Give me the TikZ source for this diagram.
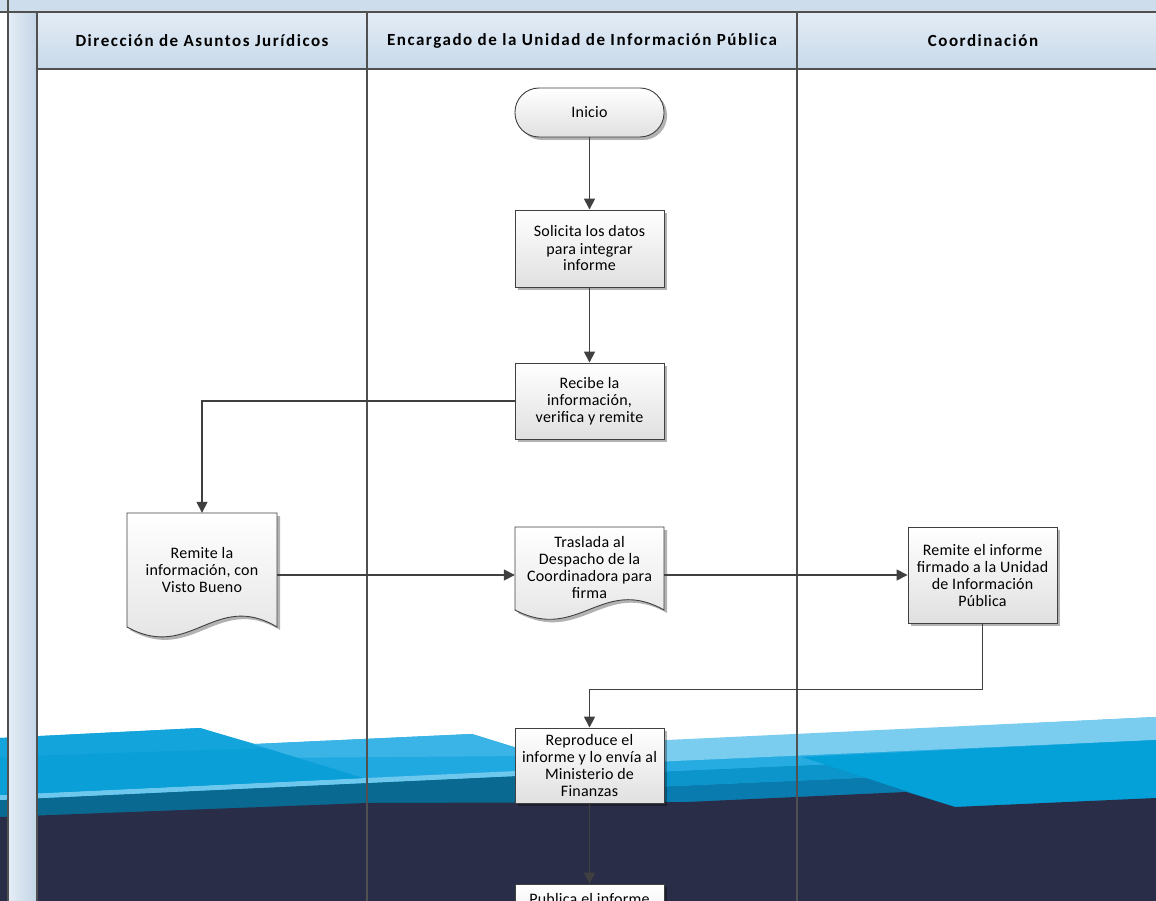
\documentclass[tikz,border=0pt]{standalone}
\usepackage{fontspec}
\setmainfont{Carlito}
\newfontfamily\boxfont[LetterSpace=1.5]{Carlito}
\newfontfamily\headfont[LetterSpace=9]{Carlito}
\usetikzlibrary{arrows.meta,shadows}
\definecolor{navy}{HTML}{2A2D47}
\definecolor{teal2}{HTML}{0A6990}
\definecolor{lightline}{HTML}{6EC8EE}
\definecolor{frontblue}{HTML}{12A4DB}
\definecolor{frontblue2}{HTML}{0B9FD7}
\definecolor{baseblue}{HTML}{1FA9E0}
\definecolor{baselight}{HTML}{3AB4E6}
\definecolor{rlight}{HTML}{7BCDF0}
\definecolor{rs1}{HTML}{27ACE2}
\definecolor{rs2}{HTML}{0B95CA}
\definecolor{rs3}{HTML}{0A7BAE}
\definecolor{rmed}{HTML}{04A0D8}
\definecolor{linec}{HTML}{404040}
\definecolor{lanec}{HTML}{505050}
\definecolor{boxbot}{HTML}{E0E0E0}
\definecolor{headtop}{HTML}{E4ECF5}
\definecolor{headbot}{HTML}{C7D9EA}
\definecolor{bandc}{HTML}{CDDDEB}
\definecolor{colleft}{HTML}{E5EDF5}
\definecolor{colright}{HTML}{C3D5E7}
\begin{document}
\begin{tikzpicture}[x=1pt,y=-1pt,
  lane/.style={draw=lanec,line width=1.2pt},
  boxshadow/.style={drop shadow={shadow xshift=3pt,shadow yshift=-3pt,fill=black,opacity=0.3}},
  txt/.style={font=\boxfont\fontsize{16}{17}\selectfont},
  proc/.style={rectangle,draw=linec,line width=0.9pt,top color=white,bottom color=boxbot,minimum width=149pt,minimum height=77pt,inner sep=1pt,align=center,txt,boxshadow},
  term/.style={proc,rounded corners=24pt,minimum height=49pt},
  docarea/.style={rectangle,minimum width=149pt,inner sep=1pt,align=center,txt},
  docshape/.style={draw=linec,line width=0.9pt,top color=white,bottom color=boxbot,boxshadow},
  conn/.style={draw=linec,line width=1.6pt,-{Triangle[length=11pt,width=11pt]}},
  head/.style={font=\headfont\fontsize{17}{19}\selectfont\bfseries}
]
\useasboundingbox (0,0) rectangle (1156,901);
\fill[white] (0,0) rectangle (1156,901);
% background waves
\fill[baseblue] (0,738) -- (200,728) -- (255,744) -- (472,734) -- (530,752) -- (664,742) -- (1156,717) -- (1156,830) -- (0,830) -- cycle;
\fill[baselight] (255,744) -- (472,734) -- (530,752) -- (530,756) -- (255,758) -- cycle;
\fill[rs3] (560,791) -- (1156,765) -- (1156,830) -- (560,830) -- cycle;
\fill[rs2] (560,776) -- (1156,750) -- (1156,765) -- (560,791) -- cycle;
\fill[rs1] (560,766) -- (1156,740) -- (1156,750) -- (560,776) -- cycle;
\fill[rlight] (560,745) -- (1156,717) -- (1156,740) -- (560,766) -- cycle;
\fill[rmed] (802,757) -- (1156,740) -- (1156,830) -- (955,830) -- (955,807) -- cycle;
\fill[teal2] (0,800) -- (560,774) -- (560,830) -- (0,830) -- cycle;
\fill[lightline] (0,795) -- (560,769) -- (560,774) -- (0,800) -- cycle;
\fill[frontblue] (0,738) -- (200,728) -- (363,778) -- (0,795) -- cycle;
\fill[frontblue2] (0,757) -- (265,748) -- (363,778) -- (0,795) -- cycle;
\fill[navy] (0,817) -- (367,803) -- (687,802) -- (906,792) -- (955,807) -- (1156,798) -- (1156,901) -- (0,901) -- cycle;
% swimlane frame
\fill[bandc] (0,0) rectangle (1156,12);
\shade[left color=colleft,right color=colright] (8,12) rectangle (37,901);
\shade[top color=headtop,bottom color=headbot] (37,12) rectangle (1156,69);
\draw[lane] (0,12) -- (1156,12);
\draw[lane] (37,69) -- (1156,69);
\draw[lane] (8,0) -- (8,901);
\draw[lane] (37,12) -- (37,901);
\draw[lane] (367,12) -- (367,901);
\draw[lane] (797,12) -- (797,901);
\node[head] (h1) at (202,40.5) {Dirección de Asuntos Jurídicos};
\node[head] (h2) at (582,40.5) {Encargado de la Unidad de Información Pública};
\node[head] (h3) at (983,40.5) {Coordinación};
% nodes
\node[term] (inicio) at (589.5,112.5) {Inicio};
\node[proc] (solicita) at (589.5,248.5) {Solicita los datos\\para integrar\\informe};
\node[proc,minimum height=76pt] (recibe) at (589.5,401) {Recibe la\\información,\\verifica y remite};
\path[docshape] (127,513) -- (277,513) -- (277,627) .. controls +(-62,-37) and +(63,35) .. (127,627) -- cycle;
\node[docarea,minimum width=150pt,minimum height=114pt] (remite1) at (202,570) {Remite la\\información, con\\Visto Bueno};
\path[docshape] (515,527) -- (664,527) -- (664,610) .. controls +(-62,-35) and +(63,33) .. (515,610) -- cycle;
\node[docarea,minimum height=83pt] (traslada) at (589.5,567) {Traslada al\\Despacho de la\\Coordinadora para\\firma};
\node[proc,minimum height=96pt] (remite2) at (982.5,575) {Remite el informe\\firmado a la Unidad\\de Información\\Pública};
\node[proc,minimum height=75pt] (reproduce) at (589.5,765.5) {Reproduce el\\informe y lo envía al\\Ministerio de\\Finanzas};
\node[proc] (publica) at (589.5,922.5) {};
\node[txt,anchor=base] (publicatxt) at (589.5,904.5) {Publica el informe};
% connectors
\path (remite1.east) ++(0,5) coordinate (r1e);
\draw[conn] (inicio) -- (solicita);
\draw[conn] (solicita) -- (recibe);
\draw[conn] (recibe.west) -| (remite1.north);
\draw[conn] (r1e) -- (r1e -| traslada.west);
\draw[conn] (r1e -| traslada.east) -- (remite2.west);
\draw[conn] (remite2.south) -- ++(0,66) -| (reproduce.north);
\draw[conn] (reproduce) -- (publica);
\end{tikzpicture}
\end{document}
